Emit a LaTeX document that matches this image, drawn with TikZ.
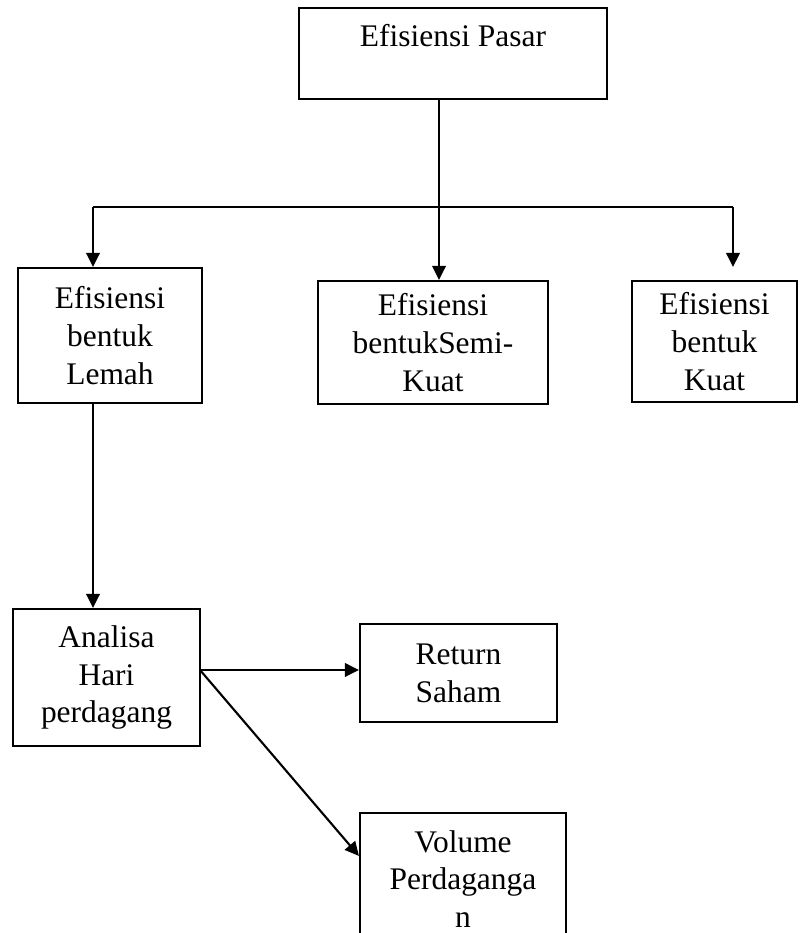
\documentclass[tikz,border=0pt]{standalone}
\usepackage{fontspec}
\setmainfont{Liberation Serif}
\usepackage{tikz}
\usetikzlibrary{arrows.meta,calc,positioning}

\begin{document}
\begin{tikzpicture}[
  box/.style={draw,line width=1.2pt,rectangle,align=center,inner sep=0pt,
    font=\fontsize{17.9}{21.5}\selectfont},
  arr/.style={line width=1.2pt,-{Triangle[length=0.28cm,width=0.27cm]}},
  ln/.style={line width=1.2pt}]
  \useasboundingbox (0,0) rectangle (16.22,18.66);
  \node[box,minimum width=6.16cm,minimum height=1.82cm] (pasar) at (9.06,17.59){Efisiensi Pasar\\[-0.25cm] \strut};
  \node[box,minimum width=3.68cm,minimum height=2.70cm] (lemah) at (2.20,11.95){Efisiensi\\bentuk\\Lemah};
  \node[box,minimum width=4.60cm,minimum height=2.46cm] (semi) at (8.66,11.81){Efisiensi\\bentukSemi-\\Kuat};
  \node[box,minimum width=3.30cm,minimum height=2.42cm] (kuat) at (14.29,11.83){Efisiensi\\bentuk\\Kuat};
  \node[box,minimum width=3.74cm,minimum height=2.74cm] (analisa) at (2.13,5.11){Analisa\\Hari\\perdagang};
  \node[box,minimum width=3.94cm,minimum height=1.96cm] (return) at (9.17,5.20){Return\\Saham};
  \node[box,minimum width=4.12cm,minimum height=2.64cm] (volume) at (9.26,1.08){Volume\\Perdaganga\\n};
  \coordinate (jct) at (8.78,14.52);
  \coordinate (jl) at (1.86,14.52);
  \coordinate (jr) at (14.66,14.52);
  \coordinate (kuattip) at (14.66,13.32);
  \coordinate (fork) at (4.00,5.26);
  \draw[arr] (pasar.south -| jct)--(jct |- semi.north);
  \draw[ln] (jl)--(jr);
  \draw[arr] (jl)--(jl |- lemah.north);
  \draw[arr] (jr)--(kuattip);
  \draw[arr] (jl |- lemah.south)--(jl |- analisa.north);
  \draw[arr] (fork)--(fork -| return.west);
  \draw[arr] (fork)--([yshift=-0.88cm]volume.north west);
\end{tikzpicture}
\end{document}
